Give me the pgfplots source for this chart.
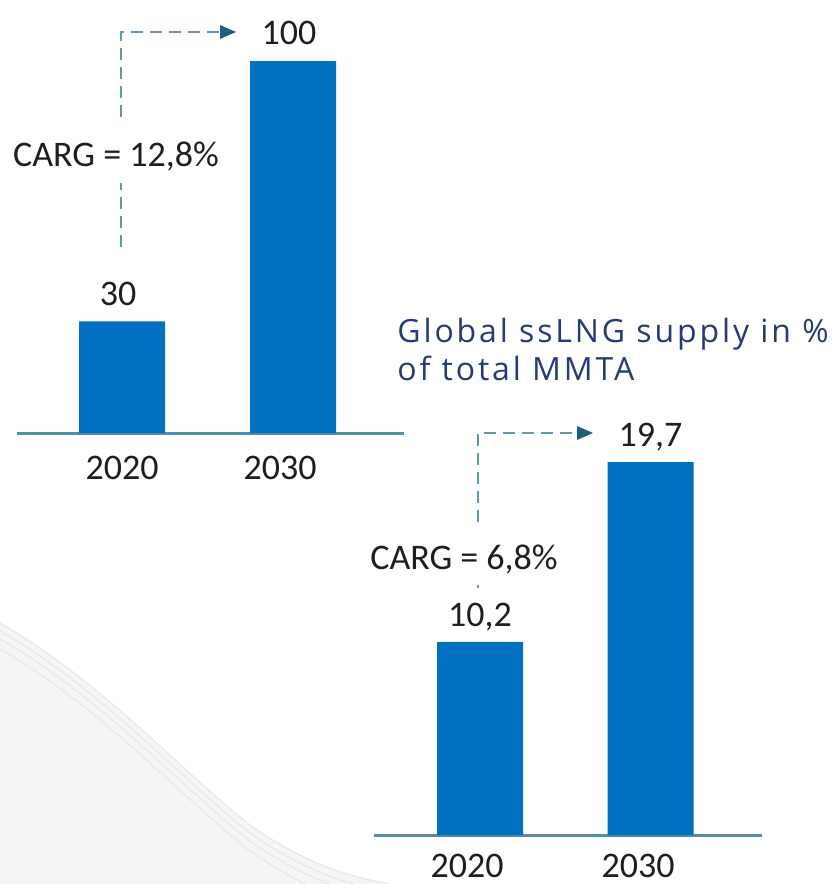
\documentclass[border=0pt]{standalone}
\usepackage{fontspec}
\setmainfont{Carlito}
\newfontfamily\titlefont[LetterSpace=9]{Open Sans}
\usepackage{pgfplots}
\pgfplotsset{compat=1.18}
\definecolor{barblue}{RGB}{0,112,192}
\definecolor{axisblue}{RGB}{84,141,170}
\definecolor{dashblue}{RGB}{100,150,178}
\definecolor{arrowblue}{RGB}{30,95,128}
\definecolor{titleblue}{RGB}{40,58,118}
\definecolor{txt}{RGB}{30,30,30}
\pgfplotsset{minibar/.style={
  scale only axis, clip=false,
  axis x line*=bottom, axis y line=none,
  axis line style={axisblue, line width=1.5pt},
  xticklabels={2020,2030}, xtick style={draw=none},
  xticklabel style={font=\fontsize{18}{20}\selectfont, text=txt},
  ybar, bar width=43pt, ymin=0,
  nodes near coords, point meta=explicit symbolic,
  every node near coord/.append style={font=\fontsize{18}{20}\selectfont, text=txt},
}}
\begin{document}
\begin{tikzpicture}
\useasboundingbox (0,0) rectangle (416pt,-442pt);
% faint decorative background wave
\begin{scope}[x=0.5pt,y=-0.5pt]
\fill[black!4] (0,623) .. controls (100,680) and (180,770) .. (250,825) .. controls (300,860) and (340,875) .. (390,884) -- (0,884) -- cycle;
\foreach \d in {0,8,16,26} {
  \draw[black!9, line width=0.6pt] (0,623+\d) .. controls (100,680+\d) and (180,770+\d) .. (250,825+\d) .. controls (300,860+\d) and (340,875+\d) .. (390,884+\d);
}
\end{scope}
% top chart
\begin{axis}[minibar, at={(8.5pt,-216.5pt)}, anchor=south west,
  width=193.5pt, height=186pt, xmin=-0.614, xmax=1.649, ymax=100,
  xtick={0,0.924}, xticklabel style={yshift=-4pt},
  every node near coord/.append style={yshift=4.5pt, xshift=-2pt}]
\addplot[fill=barblue, draw=none] coordinates {(0,30)[30] (1,100)[100]};
\end{axis}
% bottom chart
\begin{axis}[minibar, at={(187pt,-417.5pt)}, anchor=south west,
  width=194pt, height=186.5pt, xmin=-0.622, xmax=1.654, ymax=19.7,
  xtick={-0.076,0.927}, xticklabel style={yshift=-2pt},
  every node near coord/.append style={yshift=2pt}]
\addplot[fill=barblue, draw=none] coordinates {(0,10.2)[{10,2}] (1,19.7)[{19,7}]};
\end{axis}
\begin{scope}[x=0.5pt,y=-0.5pt]
\tikzset{dsh/.style={dashblue, line width=1.3pt, dash pattern=on 6pt off 3.5pt}}
\draw[dsh] (121,247) -- (121,183);
\draw[dsh] (121,117) -- (121,32) -- (222,32);
\fill[arrowblue] (236,32) -- (220,25) -- (220,39) -- cycle;
\node[text=txt, font=\fontsize{18}{20}\selectfont] at (116,157) {CARG = 12,8\%};
\draw[dsh] (478,522) -- (478,433) -- (579,433);
\fill[arrowblue] (593,433) -- (577,426) -- (577,440) -- cycle;
\draw[dashblue, line width=1.3pt] (478,585) -- (478,588);
\node[text=txt, font=\fontsize{18}{20}\selectfont] at (464,560) {CARG = 6,8\%};
\node[anchor=base west, text=titleblue, font=\titlefont\fontsize{16}{18}\selectfont, inner sep=0pt] at (397,342) {Global ssLNG supply in \%};
\node[anchor=base west, text=titleblue, font=\titlefont\fontsize{16}{18}\selectfont, inner sep=0pt] at (397,380) {of total MMTA};
\end{scope}
\end{tikzpicture}
\end{document}
